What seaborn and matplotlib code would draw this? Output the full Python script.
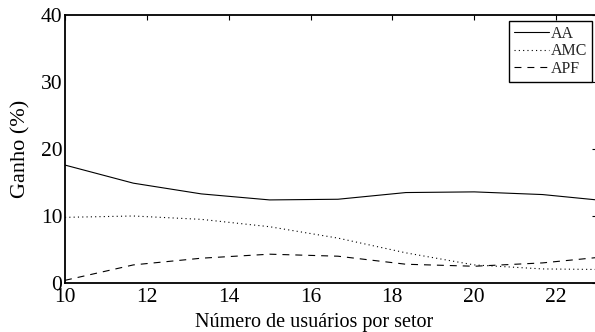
import matplotlib
matplotlib.use("Agg")
import matplotlib.pyplot as plt
import seaborn as sns
import pandas as pd

users = [10, 11.67, 13.33, 15, 16.67, 18.33, 20, 21.67, 23.33]
aa = [17.6, 14.9, 13.3, 12.4, 12.5, 13.5, 13.6, 13.2, 12.2]
amc = [9.8, 10.0, 9.5, 8.4, 6.7, 4.5, 2.7, 2.1, 2.0]
apf = [0.4, 2.7, 3.7, 4.3, 4.0, 2.8, 2.5, 3.0, 4.0]
series = ["AA", "AMC", "APF"]
xticks = [10, 12, 14, 16, 18, 20, 22]
yticks = [0, 10, 20, 30, 40]

df = pd.DataFrame({
    "x": users * 3,
    "y": aa + amc + apf,
    "s": [series[0]] * len(users) + [series[1]] * len(users) + [series[2]] * len(users),
})

sns.set_theme(style="white")
plt.rcParams["font.family"] = ["Liberation Serif", "DejaVu Serif"]
plt.rcParams["lines.scale_dashes"] = False

fig = plt.figure(figsize=(5.95, 3.32), dpi=100)
ax = fig.add_axes([65 / 595, 1 - 283 / 332, (597 - 65) / 595, (283 - 15) / 332])

styles = {"AA": "-", "AMC": (0, (0.8, 2.3)), "APF": (0, (5.0, 4.3))}
for s in series:
    sub = df[df["s"] == s]
    sns.lineplot(data=sub, x="x", y="y", ax=ax, color="black", linewidth=0.8,
                 linestyle=styles[s], label=s, legend=False)

ax.set_xlim(10, 23)
ax.set_ylim(0, 40)
ax.set_xticks(xticks)
ax.set_yticks(yticks)
ax.tick_params(axis="both", direction="in", length=3.6, width=0.8, top=True, right=True,
               labelsize=15.5, colors="black")
ax.tick_params(axis="x", pad=3.4)
ax.tick_params(axis="y", pad=2)
for lab in ax.get_xticklabels() + ax.get_yticklabels():
    lab.set_fontfamily(["Liberation Serif", "DejaVu Serif"])
for sp in ax.spines.values():
    sp.set_color("black")
    sp.set_linewidth(1.3)
ax.set_xlabel("Número de usuários por setor", fontsize=14.5, color="black")
ax.set_ylabel("Ganho (%)", fontsize=16, color="black")
ax.xaxis.set_label_coords((314 - 65) / 532, -(327 - 283) / 268)
ax.xaxis.label.set_va("baseline")
ax.yaxis.set_label_coords(-(65 - 21) / 532, (283 - 149) / 268)
ax.yaxis.label.set_va("center")

leg = ax.legend(loc="upper right", bbox_to_anchor=((592 - 65) / 532, 1 - 6 / 268),
                bbox_transform=ax.transAxes, fontsize=11.5, frameon=True, fancybox=False,
                handlelength=2.2, handletextpad=0.1, borderpad=0.3, labelspacing=0.1,
                borderaxespad=0.0)
leg.get_frame().set_edgecolor("black")
leg.get_frame().set_linewidth(1.0)
leg.get_frame().set_alpha(1)

fig.savefig("out.png", dpi=100)
